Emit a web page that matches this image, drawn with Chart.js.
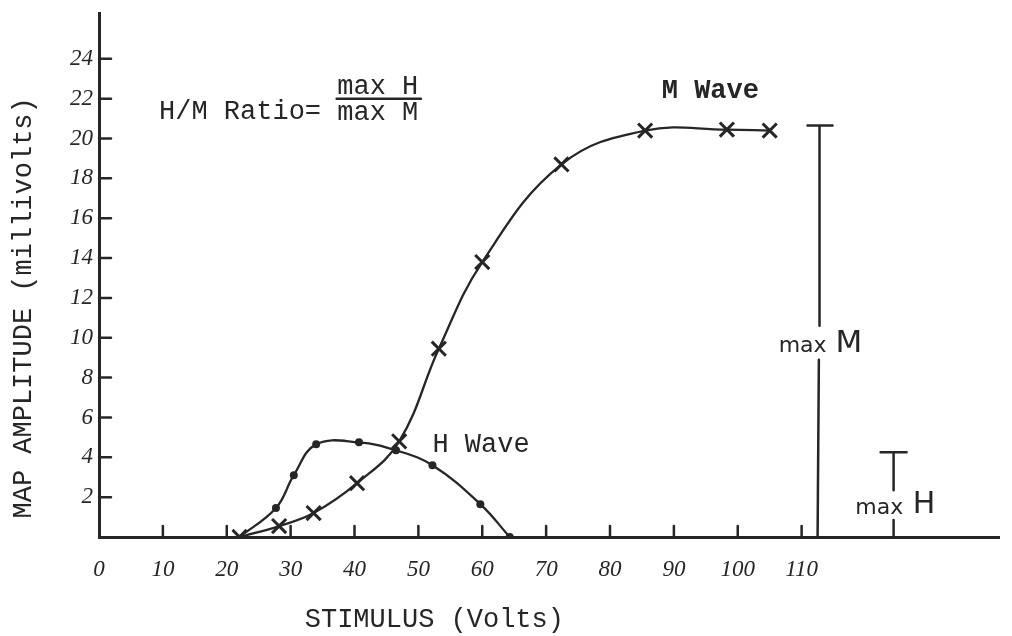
<!DOCTYPE html>
<html>
<head>
<meta charset="utf-8">
<title>H/M Ratio</title>
<script src="https://cdn.jsdelivr.net/npm/chart.js@4.4.1/dist/chart.umd.min.js"></script>
<style>
  html, body { margin: 0; padding: 0; background: #fff; }
  #wrap { width: 1012px; height: 636px; position: relative; }
</style>
</head>
<body>
<div id="wrap"><canvas id="chart"></canvas></div>
<script>
/* Values: stimulus (V) vs MAP amplitude (mV) */
const mVolts = [22, 28.2, 33.6, 40.4, 47, 53.2, 60, 72.4, 85.5, 98.3, 105];
const mAmp   = [0, 0.55, 1.2, 2.7, 4.8, 9.45, 13.8, 18.7, 20.4, 20.45, 20.4];
const hVolts = [22, 27.7, 30.5, 34, 40.7, 46.5, 52.2, 59.7, 64.3];
const hAmp   = [0, 1.45, 3.1, 4.65, 4.75, 4.35, 3.6, 1.65, 0];

const xTickVals = [0, 10, 20, 30, 40, 50, 60, 70, 80, 90, 100, 110];
const yTickVals = [2, 4, 6, 8, 10, 12, 14, 16, 18, 20, 22, 24];
// axes run a bit past the last labelled tick
const X_MAX = 140.9, Y_MAX = 26.3;

const INK = '#262626';
const MONO = '"Liberation Mono", "DejaVu Sans Mono", monospace';
const HAND = '"DejaVu Sans", sans-serif';

const pts = (xs, ys) => xs.map((x, i) => ({ x, y: ys[i] }));

/* hand-drawn bits: inward ticks, the max brackets and the typed labels */
const sketch = {
  id: 'sketch',
  afterDraw(chart) {
    const { ctx, chartArea: a, scales: { x: xs, y: ys } } = chart;
    const X = v => xs.getPixelForValue(v), Y = v => ys.getPixelForValue(v);
    ctx.save();
    ctx.strokeStyle = INK; ctx.fillStyle = INK; ctx.lineCap = 'round';

    // ticks point into the plot
    ctx.lineWidth = 2.5;
    ctx.beginPath();
    xTickVals.filter(v => v > 0).forEach(v => { ctx.moveTo(X(v), a.bottom); ctx.lineTo(X(v), a.bottom - 11); });
    yTickVals.forEach(v => { ctx.moveTo(a.left, Y(v)); ctx.lineTo(a.left + 12, Y(v)); });
    ctx.stroke();

    // max M bracket
    ctx.beginPath();
    ctx.moveTo(X(112.5), Y(0)); ctx.lineTo(X(112.7), Y(8.9));
    ctx.moveTo(X(112.8), Y(10.6)); ctx.lineTo(X(112.8), Y(20.65));
    ctx.moveTo(X(112.8) - 12, Y(20.65)); ctx.lineTo(X(112.8) + 13, Y(20.65));
    // max H bracket
    ctx.moveTo(X(124.4), Y(0)); ctx.lineTo(X(124.4), Y(0.85));
    ctx.moveTo(X(124.4), Y(2.35)); ctx.lineTo(X(124.4), Y(4.25));
    ctx.moveTo(X(124.4) - 13, Y(4.25)); ctx.lineTo(X(124.4) + 13, Y(4.25));
    ctx.stroke();

    ctx.textBaseline = 'middle';
    ctx.textAlign = 'left';
    ctx.font = '22px ' + HAND;
    ctx.fillText('max', X(106.4), Y(9.7) + 3);
    ctx.font = '31px ' + HAND;
    ctx.fillText('M', X(115.3), Y(9.7));
    ctx.font = '22px ' + HAND;
    ctx.fillText('max', X(118.4), Y(1.6) + 3);
    ctx.font = '30px ' + HAND;
    ctx.fillText('H', X(127.4), Y(1.6));

    // typed labels
    ctx.font = '27px ' + MONO;
    ctx.fillText('H/M Ratio=', X(9.4), Y(21.35));
    ctx.fillText('max H', X(37.3), Y(22.6));
    ctx.fillText('max M', X(37.3), Y(21.3));
    ctx.fillText('H Wave', X(52.2), Y(4.65));
    ctx.lineWidth = 2.5;
    ctx.beginPath(); ctx.moveTo(X(37.2), Y(22)); ctx.lineTo(X(50.4), Y(22)); ctx.stroke();
    ctx.font = 'bold 27px ' + MONO;
    ctx.fillText('M Wave', X(88.1), Y(22.35));

    // axis titles
    ctx.font = '27px ' + MONO;
    ctx.textAlign = 'center';
    ctx.fillText('STIMULUS (Volts)', X(52.5), 620);
    ctx.translate(24, Y(11.5));
    ctx.rotate(-Math.PI / 2);
    ctx.fillText('MAP AMPLITUDE (millivolts)', 0, 0);
    ctx.restore();
  }
};

const tickFont = { family: '"Liberation Serif", serif', style: 'italic', size: 23 };

new Chart(document.getElementById('chart'), {
  type: 'scatter',
  data: {
    datasets: [
      {
        label: 'M Wave',
        data: pts(mVolts, mAmp),
        showLine: true, tension: 0.4,
        borderColor: INK, borderWidth: 2.3,
        pointStyle: 'crossRot', pointRadius: 10, pointBorderWidth: 3,
        pointBorderColor: INK, pointBackgroundColor: INK
      },
      {
        label: 'H Wave',
        data: pts(hVolts, hAmp),
        showLine: true, tension: 0.4,
        borderColor: INK, borderWidth: 2.3,
        pointStyle: 'circle', pointRadius: hVolts.map((v, i) => i === 0 ? 0 : 4),
        pointBorderWidth: 0, pointBackgroundColor: INK
      }
    ]
  },
  options: {
    responsive: true,
    maintainAspectRatio: false,
    animation: false,
    // the big X markers already force ~11.5px of room at the top and right
    layout: { padding: { top: 11.5, right: 11.5, left: 0, bottom: 0 } },
    plugins: { legend: { display: false }, tooltip: { enabled: false } },
    scales: {
      x: {
        type: 'linear', min: 0, max: X_MAX,
        afterFit: s => { s.height = 99; s.paddingLeft = 0; s.paddingRight = 0; },
        afterBuildTicks: s => { s.ticks = xTickVals.map(value => ({ value })); },
        grid: { drawOnChartArea: false, drawTicks: false },
        border: { color: INK, width: 3 },
        ticks: { color: INK, padding: 19, maxRotation: 0, autoSkip: false, font: tickFont }
      },
      y: {
        type: 'linear', min: 0, max: Y_MAX,
        afterFit: s => { s.width = 99; s.paddingTop = 0; s.paddingBottom = 0; },
        afterBuildTicks: s => { s.ticks = yTickVals.map(value => ({ value })); },
        grid: { drawOnChartArea: false, drawTicks: false },
        border: { color: INK, width: 3 },
        ticks: { color: INK, padding: 6, autoSkip: false, font: tickFont }
      }
    }
  },
  plugins: [sketch]
});
</script>
</body>
</html>
